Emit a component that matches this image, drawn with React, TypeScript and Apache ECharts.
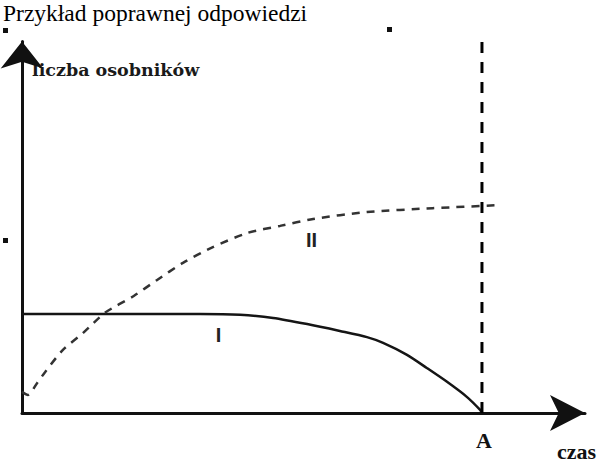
import * as echarts from 'echarts';
import React, { useEffect, useRef } from 'react';

// oś czasu: 0 = początek, 100 = moment A
const X_MAX = 122.4;
const Y_MAX = 96.5;
const A_TIME = 100;

// krzywa I (linia ciągła) - [czas, liczba osobników]
const curveI: [number, number][] = [
  [0, 25.7],
  [38.7, 25.7],
  [47.4, 25.5],
  [54.6, 24.7],
  [62.0, 23.1],
  [69.1, 21.3],
  [75.0, 19.7],
  [78.5, 18.2],
  [83.7, 15.1],
  [88.0, 11.7],
  [92.4, 8.1],
  [96.7, 4.2],
  [99.6, 0.8],
  [100, 0],
];

// krzywa II (linia przerywana)
const curveII: [number, number][] = [
  [0, 5.5],
  [1.3, 4.7],
  [3.3, 7.8],
  [5.0, 10.6],
  [8.9, 16.4],
  [13.3, 20.8],
  [18.0, 26.0],
  [24.3, 30.4],
  [29.3, 34.5],
  [35.0, 39.0],
  [41.5, 43.1],
  [49.1, 46.8],
  [56.1, 48.6],
  [63.3, 50.4],
  [75.0, 52.2],
  [89.3, 53.2],
  [103.9, 54.0],
];

const TITLE = 'Przykład poprawnej odpowiedzi';
const Y_NAME = 'liczba osobników';
const X_NAME = 'czas';
const A_LABEL = 'A';

const SERIF = '"Liberation Serif", "Times New Roman", serif';
const SANS = '"Liberation Sans", Arial, sans-serif';

const App = () => {
  const chartRef = useRef<HTMLDivElement>(null);

  useEffect(() => {
    if (!chartRef.current) return;
    const chart = echarts.init(chartRef.current, undefined, { renderer: 'svg' });

    chart.setOption({
      animation: false,
      backgroundColor: '#ffffff',
      grid: { left: 22, top: 41.5, right: 25, bottom: 51 },
      xAxis: {
        type: 'value',
        min: 0,
        max: X_MAX,
        axisLine: {
          show: true,
          symbol: ['none', 'arrow'],
          symbolSize: [27, 35],
          lineStyle: { color: '#111', width: 3 },
        },
        axisTick: { show: false },
        axisLabel: { show: false },
        splitLine: { show: false },
      },
      yAxis: {
        type: 'value',
        min: 0,
        max: Y_MAX,
        axisLine: {
          show: true,
          symbol: ['none', 'arrow'],
          symbolSize: [32, 27],
          lineStyle: { color: '#111', width: 3 },
        },
        axisTick: { show: false },
        axisLabel: { show: false },
        splitLine: { show: false },
      },
      series: [
        {
          name: 'I',
          type: 'line',
          data: curveI,
          symbol: 'none',
          smooth: 0.25,
          lineStyle: { color: '#151515', width: 2.5 },
          z: 3,
        },
        {
          name: 'II',
          type: 'line',
          data: curveII,
          symbol: 'none',
          smooth: 0.25,
          lineStyle: { color: '#333', width: 2.5, type: [8, 7] },
          z: 3,
        },
        {
          name: 'A',
          type: 'line',
          data: [
            [A_TIME, 0],
            [A_TIME, Y_MAX],
          ],
          symbol: 'none',
          lineStyle: { color: '#000', width: 3, type: [11, 9] },
          z: 4,
        },
      ],
      graphic: [
        {
          type: 'text',
          left: 3,
          top: 1,
          style: { text: TITLE, fontSize: 23.5, fontFamily: SERIF, fill: '#000' },
        },
        {
          type: 'text',
          left: 32,
          top: 61,
          style: { text: Y_NAME, fontSize: 17.5, fontWeight: 'bold', fontFamily: '"DejaVu Serif", serif', fill: '#1a1a1a' },
        },
        {
          type: 'text',
          x: 484,
          y: 440,
          style: {
            text: A_LABEL,
            fontSize: 22,
            fontWeight: 'bold',
            fontFamily: SERIF,
            fill: '#111',
            align: 'center',
            verticalAlign: 'middle',
          },
        },
        {
          type: 'text',
          x: 557,
          y: 451,
          style: {
            text: X_NAME,
            fontSize: 22,
            fontWeight: 'bold',
            fontFamily: SERIF,
            fill: '#111',
            verticalAlign: 'middle',
          },
        },
        {
          type: 'text',
          x: 218.5,
          y: 335,
          style: {
            text: 'I',
            fontSize: 20,
            fontWeight: 'bold',
            fontFamily: SANS,
            fill: '#222',
            align: 'center',
            verticalAlign: 'middle',
          },
        },
        {
          type: 'text',
          x: 311.5,
          y: 240,
          style: {
            text: 'II',
            fontSize: 20,
            fontWeight: 'bold',
            fontFamily: SANS,
            fill: '#222',
            align: 'center',
            verticalAlign: 'middle',
          },
        },
        { type: 'rect', shape: { x: 3, y: 28, width: 5, height: 5 }, style: { fill: '#111' } },
        { type: 'rect', shape: { x: 387, y: 27, width: 5, height: 5 }, style: { fill: '#111' } },
        { type: 'rect', shape: { x: 3, y: 238, width: 5, height: 5 }, style: { fill: '#111' } },
      ],
    });

    return () => {
      chart.dispose();
    };
  }, []);

  return (
    <div
      ref={chartRef}
      style={{ position: 'absolute', left: 0, top: 0, width: 610, height: 464, background: '#fff' }}
    />
  );
};

export default App;
